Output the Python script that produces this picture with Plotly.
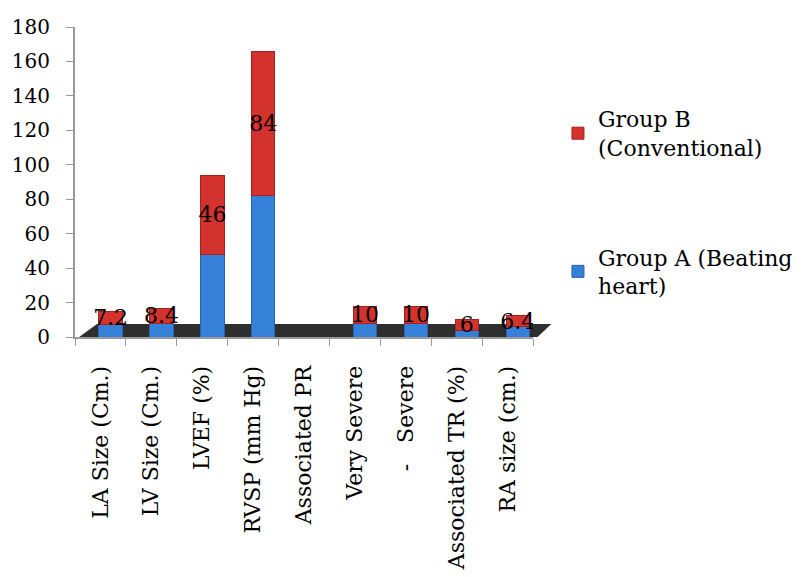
import plotly.graph_objects as go

categories = ["LA Size (Cm.)", "LV Size (Cm.)", "LVEF (%)", "RVSP (mm Hg)",
              "Associated PR", "Very Severe", "-   Severe", "Associated TR (%)", "RA size (cm.)"]
group_a = [7.5, 8, 48, 82, 0, 8, 8, 4, 6]
group_b = [7.2, 8.4, 46, 84, 0, 10, 10, 6, 6.4]
b_labels = ["7.2", "8.4", "46", "84", "", "10", "10", "6", "6.4"]
y_ticks = [0, 20, 40, 60, 80, 100, 120, 140, 160, 180]

FONT = "DejaVu Serif"
BAR_W = 0.46
BAR_OFF = -0.03

fig = go.Figure()
fig.add_trace(go.Bar(
    x=categories, y=group_a, name="Group A (Beating<br>heart)",
    width=BAR_W, offset=BAR_OFF,
    marker=dict(color="#3580d8", line=dict(color="#2a62ad", width=1)),
    legendgroup="a", legendrank=2,
))
fig.add_trace(go.Bar(
    x=categories, y=group_b, name="Group B<br>(Conventional)",
    width=BAR_W, offset=BAR_OFF,
    marker=dict(color="#d4332d", line=dict(color="#a52020", width=1)),
    text=b_labels, textposition="inside", insidetextanchor="middle",
    constraintext="none", textangle=0,
    textfont=dict(family=FONT, size=22, color="black"),
    legendgroup="b", legendrank=1,
))

fig.update_layout(
    width=811, height=577,
    barmode="stack",
    plot_bgcolor="white", paper_bgcolor="white",
    margin=dict(l=75, r=278, t=27, b=240, autoexpand=False),
    font=dict(family=FONT, size=20, color="black"),
    showlegend=True,
    legend=dict(xref="container", yref="container", x=0.688, y=0.83,
                xanchor="left", yanchor="top",
                traceorder="grouped", tracegroupgap=78,
                font=dict(family=FONT, size=22, color="black"),
                itemwidth=30),
    shapes=[dict(type="path", xref="paper", yref="paper",
                 path="M 0.009 0 L 0.048 0.042 L 1.04 0.042 L 1.01 0 Z",
                 fillcolor="#2e2e2e", line=dict(width=0), layer="below")],
)
fig.update_yaxes(range=[0, 180], tickvals=y_ticks, showgrid=False,
                 showline=True, linecolor="#999999", linewidth=2,
                 ticks="outside", ticklen=7, tickcolor="#999999",
                 ticklabelstandoff=12,
                 tickfont=dict(family=FONT, size=20), zeroline=False)
fig.update_xaxes(showline=True, linecolor="#999999", linewidth=2,
                 ticks="outside", ticklen=7, tickcolor="#999999",
                 tickson="boundaries", tickangle=-90,
                 ticklabelstandoff=18,
                 tickfont=dict(family=FONT, size=22))

fig.write_html("out.html")
